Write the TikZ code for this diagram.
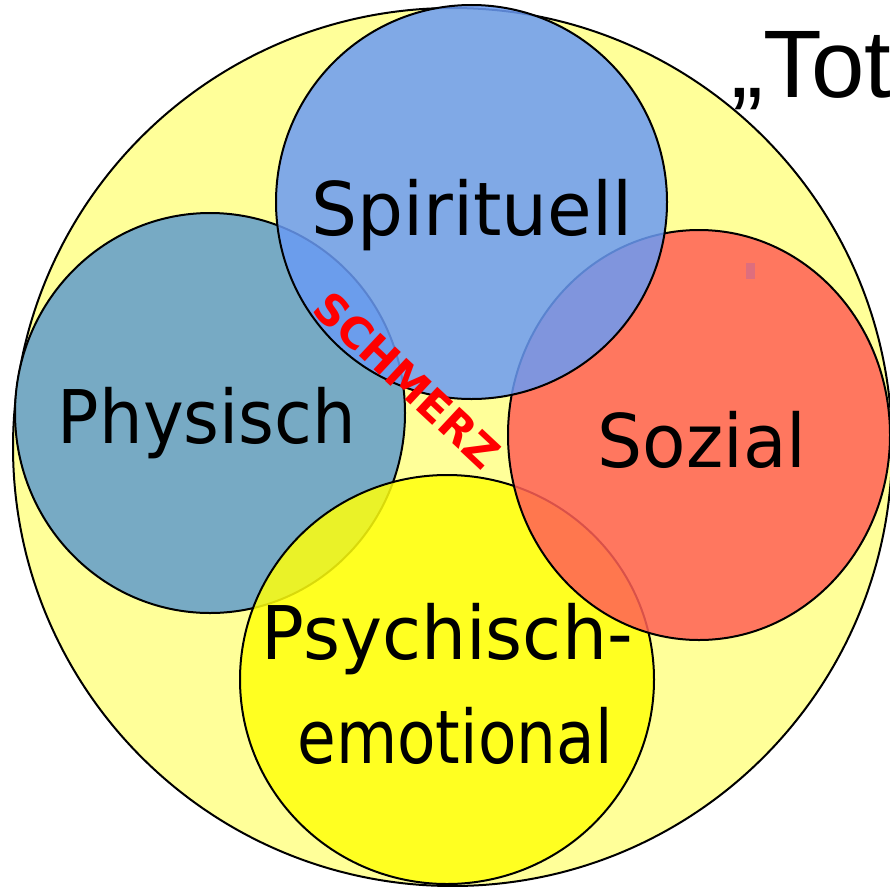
\documentclass[tikz,border=0pt]{standalone}
\usepackage{fontspec}
\usetikzlibrary{shapes.geometric}
\setmainfont{DejaVu Sans}
\newfontfamily\arialfont{Liberation Sans}
\definecolor{bigY}{RGB}{255,255,153}
\definecolor{physC}{RGB}{119,170,196}
\definecolor{spirC}{RGB}{106,155,244}
\definecolor{sozC}{RGB}{255,96,86}
\definecolor{psyC}{RGB}{255,255,13}
\definecolor{dotC}{RGB}{222,110,125}
\begin{document}
\begin{tikzpicture}[x=1pt,y=-1pt,
  ring/.style={ellipse, draw=black, line width=2pt, inner sep=0pt, outer sep=0pt},
  label/.style={anchor=base, font=\fontsize{74}{80}\selectfont, text=black, inner sep=0pt}]
\useasboundingbox (0,0) rectangle (890,886);
\node[ring, fill=bigY, minimum width=879pt, minimum height=878pt] (big) at (452.5,447) {};
\node[ring, fill=physC, minimum width=390pt, minimum height=400pt] (phys) at (210,413) {};
\node[ring, fill=psyC, fill opacity=0.85, minimum width=414pt, minimum height=409pt] (psy) at (447,679.5) {};
\node[ring, fill=sozC, fill opacity=0.85, minimum width=382pt, minimum height=410pt] (soz) at (699,435) {};
\node[ring, fill=spirC, fill opacity=0.85, minimum width=391pt, minimum height=394pt] (spir) at (471.5,202) {};
\fill[dotC] (746,263) rectangle (755,279);
\node[label] (tspir) at (472,235) {\scalebox{0.98}[1]{Spirituell}};
\node[label] (tphys) at (207,443) {\scalebox{0.93}[1]{Physisch}};
\node[label] (tsoz) at (702,467) {\scalebox{0.96}[1]{Sozial}};
\node[label] (tpsy1) at (447,659) {\scalebox{0.96}[1]{Psychisch-}};
\node[label] (tpsy2) at (455,763) {\scalebox{0.85}[1]{emotional}};
\node[text=red, font=\fontsize{43}{46}\selectfont\bfseries, rotate=-43, inner sep=0pt] (pain) at (407,380) {SCHMERZ};
\node[anchor=base west, font=\arialfont\fontsize{96}{100}\selectfont, inner sep=0pt] (tot) at (731,97) {„Tot};
\end{tikzpicture}
\end{document}
